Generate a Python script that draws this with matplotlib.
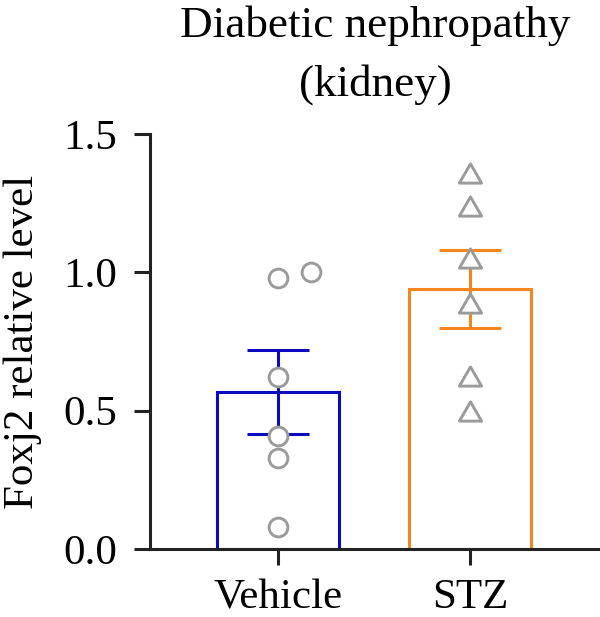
import matplotlib
matplotlib.use('Agg')
import matplotlib.pyplot as plt
from matplotlib.path import Path
from matplotlib.ticker import FormatStrFormatter

# --- data ---
groups = ['Vehicle', 'STZ']
vehicle_points = [0.98, 1.00, 0.62, 0.41, 0.33, 0.08]
vehicle_jitter = [0.0, 0.17, 0.0, 0.0, 0.0, 0.0]
stz_points = [1.36, 1.24, 1.05, 0.89, 0.625, 0.50]
means = [0.568, 0.94]
sems = [0.152, 0.142]

bar_colors = ['#0A0ABE', '#F5861F']
point_color = '#9B9B9B'

plt.rcParams['font.family'] = ['Liberation Serif', 'DejaVu Serif']
plt.rcParams['font.size'] = 31

# equilateral triangle marker
tri = Path([(0, 0.433), (-0.5, -0.433), (0.5, -0.433), (0, 0.433)],
           [Path.MOVETO, Path.LINETO, Path.LINETO, Path.CLOSEPOLY])

fig = plt.figure(figsize=(6.0, 6.17), dpi=100)
ax = fig.add_axes([0.25, 0.110, 0.75, 0.673])

x = range(len(groups))
ax.bar(x, means, width=0.64, color='white', edgecolor=bar_colors,
       linewidth=2.2, zorder=2)
for i in x:
    ax.errorbar(i, means[i], yerr=sems[i], color=bar_colors[i], capsize=22.5,
                elinewidth=2.2, capthick=2.2, zorder=3)

ax.plot([0 + j for j in vehicle_jitter], vehicle_points, 'o', ms=13.5,
        mfc='white', mec=point_color, mew=2.1, linestyle='none', zorder=4)
ax.plot([1] * len(stz_points), stz_points, marker=tri, ms=16,
        mfc='white', mec=point_color, mew=2.1, linestyle='none', zorder=4)

ax.set_xlim(-0.667, 1.677)
ax.set_ylim(0, 1.5)
ax.set_yticks([0, 0.5, 1.0, 1.5])
ax.yaxis.set_major_formatter(FormatStrFormatter('%.1f'))
ax.set_xticks(list(x))
ax.set_xticklabels(groups)

for s in ['top', 'right']:
    ax.spines[s].set_visible(False)
for s in ['left', 'bottom']:
    ax.spines[s].set_linewidth(2.2)
    ax.spines[s].set_color('#222222')
ax.tick_params(axis='both', length=11.5, width=2.2, color='#222222')
ax.tick_params(axis='y', pad=12)
ax.tick_params(axis='x', pad=10)

ax.set_ylabel('Foxj2 relative level')
ax.yaxis.set_label_coords(-0.24, 0.5)

# title: two lines, last baseline ~96 px from top
fig.text(0.625, 0.8444, 'Diabetic nephropathy\n(kidney)', fontsize=32.5,
         ha='center', va='baseline', linespacing=1.58, multialignment='center')

fig.savefig('out.png', dpi=100)
